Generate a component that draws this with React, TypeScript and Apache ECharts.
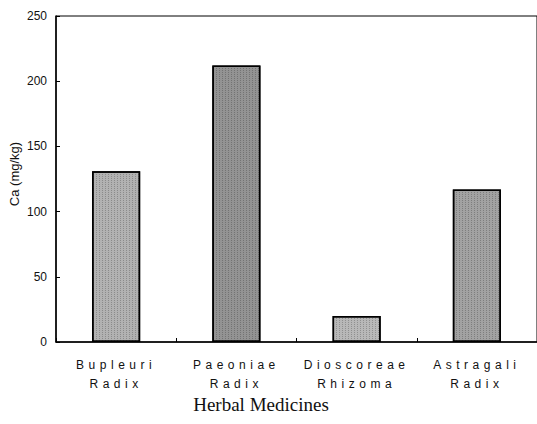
import React, { useEffect, useRef } from "react";
import * as echarts from "echarts";

const categories = ["Bupleuri\nRadix", "Paeoniae\nRadix", "Dioscoreae\nRhizoma", "Astragali\nRadix"];
const caValues = [131, 212, 20, 117];
const barColors = ["#b2b2b2", "#939393", "#b8b8b8", "#a2a2a2"];
const yTicks = { min: 0, max: 250, interval: 50 };
const yAxisTitle = "Ca (mg/kg)";
const xAxisTitle = "Herbal Medicines";

export default function App() {
  const ref = useRef<HTMLDivElement>(null);
  useEffect(() => {
    if (!ref.current) return;
    const chart = echarts.init(ref.current, undefined, { renderer: "svg" });
    const decal = {
      symbol: "rect",
      symbolSize: 1,
      color: "rgba(0,0,0,0.22)",
      dashArrayX: [1, 2],
      dashArrayY: [1, 1],
      rotation: 0,
    };
    chart.setOption({
      animation: false,
      backgroundColor: "#ffffff",
      grid: {
        left: 56,
        top: 16,
        right: -2,
        bottom: 82,
        show: true,
        borderColor: "#000",
        borderWidth: 1,
        backgroundColor: "transparent",
      },
      xAxis: {
        type: "category",
        data: categories,
        boundaryGap: true,
        axisLine: { show: true, lineStyle: { color: "#000", width: 1.5 } },
        axisTick: { show: true, inside: true, length: 4, lineStyle: { color: "#000" } },
        axisLabel: {
          color: "#111",
          fontFamily: "Liberation Sans",
          fontSize: 12,
          lineHeight: 19,
          margin: 13,
          interval: 0,
        },
        splitLine: { show: false },
      },
      yAxis: {
        type: "value",
        min: yTicks.min,
        max: yTicks.max,
        interval: yTicks.interval,
        axisLine: { show: true, lineStyle: { color: "#000", width: 1.5 } },
        axisTick: { show: true, inside: true, length: 4, lineStyle: { color: "#000" } },
        axisLabel: { color: "#111", fontFamily: "Arial", fontSize: 12, margin: 9 },
        splitLine: { show: false },
      },
      graphic: [
        {
          type: "text",
          x: 14,
          y: 174,
          rotation: Math.PI / 2,
          style: {
            text: yAxisTitle,
            fill: "#111",
            font: "13px Arial",
            align: "center",
            verticalAlign: "middle",
          },
        },
        {
          type: "text",
          x: 261,
          y: 404,
          style: {
            text: xAxisTitle,
            fill: "#111",
            font: '19px "Liberation Serif"',
            align: "center",
            verticalAlign: "middle",
          },
        },
      ],
      series: [
        {
          type: "bar",
          barWidth: "40%",
          data: caValues.map((v, i) => ({
            value: v,
            itemStyle: { color: barColors[i], borderColor: "#000", borderWidth: 1.5, decal },
          })),
          itemStyle: {
            borderColor: "#000",
            borderWidth: 1.5,
            decal,
          },
        },
      ],
    });
    return () => chart.dispose();
  }, []);
  return (
    <>
      <style>{`.chartbox text[style*="Liberation Sans"] { letter-spacing: 4.5px; }`}</style>
      <div
        ref={ref}
        className="chartbox"
        style={{ position: "fixed", left: 0, top: 0, width: 537, height: 424 }}
      />
    </>
  );
}
